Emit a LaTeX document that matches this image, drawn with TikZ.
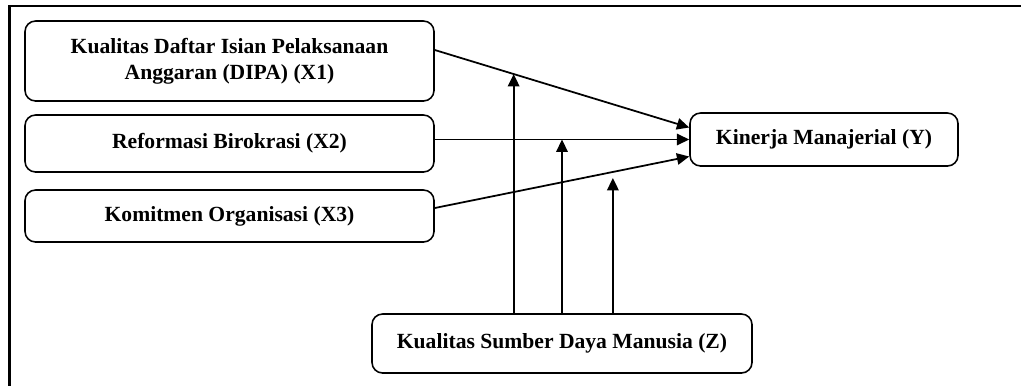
\documentclass[tikz,border=0pt]{standalone}
\usepackage{fontspec}
\setmainfont{Liberation Serif}
\usepackage{tikz}
\usetikzlibrary{arrows.meta,positioning,calc}

\begin{document}
\begin{tikzpicture}[x=0.02cm,y=-0.02cm,
    box/.style={draw,line width=0.9pt,rounded corners=6pt,align=center,inner sep=0pt,
      font=\fontsize{12.3}{15}\selectfont\bfseries},
    link/.style={line width=1pt,-{Triangle[length=7pt,width=6.5pt]}}]
        \useasboundingbox (0,0) rectangle (1021,386);
        \draw [line width=1.5pt] (1021,6) -- (9.5,6) -- (9.5,386);
        % variables
        \node [box,minimum width=409*0.02cm,minimum height=80*0.02cm] (x1) at (229.5,61) {Kualitas Daftar Isian Pelaksanaan\\Anggaran (DIPA) (X1)};
        \node [box,minimum width=409*0.02cm,minimum height=57*0.02cm] (x2) at (229.5,143.5) {Reformasi Birokrasi (X2)};
        \node [box,minimum width=409*0.02cm,minimum height=52*0.02cm] (x3) at (229.5,216) {Komitmen Organisasi (X3)};
        \node [box,minimum width=268*0.02cm,minimum height=53*0.02cm] (y) at (824,139.5) {Kinerja Manajerial (Y)};
        \node [box,minimum width=380*0.02cm,minimum height=59*0.02cm] (z) at (562,343.5) {Kualitas Sumber Daya Manusia (Z)};
        % direct paths
        \coordinate (a1) at ($(x1.east)+(0,-11)$);
        \coordinate (b1) at ($(y.west)+(0,-12)$);
        \coordinate (a3) at ($(x3.east)+(0,-8)$);
        \coordinate (b3) at ($(y.west)+(0,17)$);
        \draw [link] (a1) -- (b1);
        \draw [link] (x2.east |- y.west) -- (y.west);
        \draw [link] (a3) -- (b3);
        % moderation
        \coordinate (m1) at ($(a1)!0.31!(b1)$);
        \coordinate (m2) at (z.north |- y.west);
        \coordinate (m3) at ($(a3)!0.7!(b3)+(0,6)$);
        \draw [link] (z.north -| m1) -- (m1);
        \draw [link] (z.north) -- (m2);
        \draw [link] (z.north -| m3) -- (m3);
      \end{tikzpicture}
\end{document}
